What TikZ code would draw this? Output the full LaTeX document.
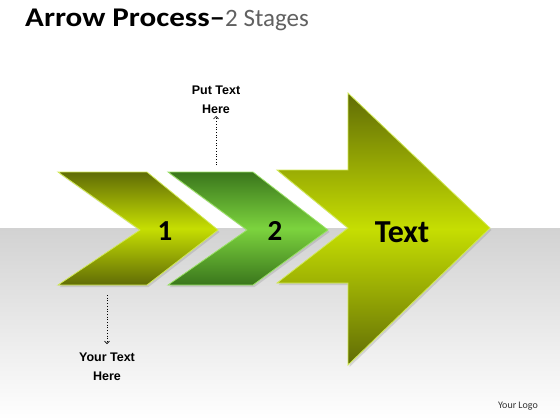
\documentclass[tikz,border=0pt]{standalone}
\usepackage{fontspec}
\setmainfont{Carlito}
\newfontfamily\labelfont{Liberation Sans}
\usetikzlibrary{arrows.meta,shadows}

\definecolor{olivedark}{HTML}{606C06}
\definecolor{olivelight}{HTML}{C6DE02}
\definecolor{greendark}{HTML}{3A761C}
\definecolor{greenlight}{HTML}{7CD33E}
\definecolor{rimolive}{HTML}{D2EA55}
\definecolor{rimgreen}{HTML}{9BE266}
\definecolor{bandgray}{HTML}{D2D2D2}

\tikzset{
  stageshade/.style={line width=0.8pt, drop shadow={opacity=0.25, shadow xshift=1.5pt, shadow yshift=-2pt}},
  olivestage/.style={stageshade, draw=rimolive, top color=olivedark, bottom color=olivedark, middle color=olivelight},
  greenstage/.style={stageshade, draw=rimgreen, top color=greendark, bottom color=greendark, middle color=greenlight},
  stagenum/.style={font=\bfseries\fontsize{29}{29}\selectfont},
  notelabel/.style={font=\labelfont\bfseries\fontsize{12.5}{19}\selectfont, align=center, inner sep=2pt},
  pointer/.style={dotted, line width=0.7pt, -{Straight Barb[length=2.5pt,width=5pt]}}
}

\begin{document}
\begin{tikzpicture}[x=1pt,y=-1pt]
\useasboundingbox (0,0) rectangle (560,420);
% background
\fill[white] (0,0) rectangle (560,228);
\shade[top color=bandgray, bottom color=white] (0,228) rectangle (560,420);

% title
\node[anchor=base west, inner sep=0pt] (title) at (25,27)
  {\bfseries\fontsize{27}{27}\selectfont\scalebox{1.15}[1]{Arrow Process--}\mdseries\color{black!62}\fontsize{25}{25}\selectfont 2 Stages};

% stages
\path[olivestage] (58,172) -- (147,172) -- (218,230) -- (147,285) -- (58,285) -- (140,230) -- cycle;
\path[greenstage] (168,172) -- (253,172) -- (328,230) -- (253,285) -- (168,285) -- (247,230) -- cycle;
\path[olivestage] (277,170) -- (348,170) -- (348,93) -- (490,228) -- (348,365) -- (348,283) -- (277,283) -- (348,228) -- cycle;

\node[stagenum, anchor=base] (one) at (165,240) {1};
\node[stagenum, anchor=base] (two) at (275,240) {2};
\node[font=\bfseries\fontsize{32}{32}\selectfont, anchor=base] (text) at (402,242) {Text};

% notes
\node[notelabel, anchor=south] (put) at (216,116) {Put Text\\Here};
\coordinate (putfoot) at (216,165);
\draw[pointer] (putfoot) -- (put.south);

\node[notelabel, anchor=north] (your) at (107,351) {Your Text\\Here};
\coordinate (yourtop) at (107,295);
\draw[pointer, shorten >=7pt] (yourtop) -- (your.north);

\node[font=\fontsize{10}{10}\selectfont, anchor=base, text=black!80] (logo) at (518,408) {Your Logo};
\end{tikzpicture}
\end{document}
